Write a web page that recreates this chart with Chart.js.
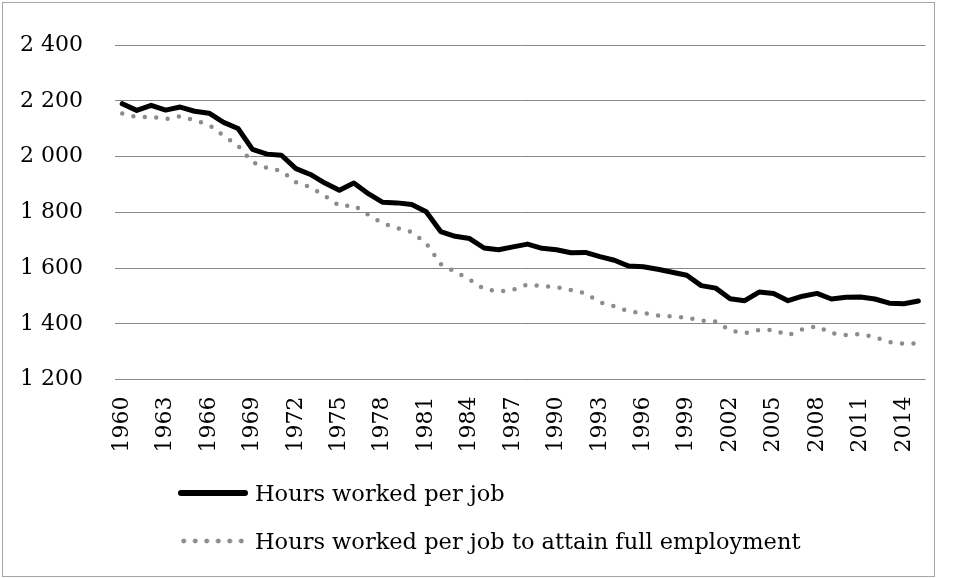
<!DOCTYPE html>
<html>
<head>
<meta charset="utf-8">
<script src="https://cdn.jsdelivr.net/npm/chart.js@4"></script>
<style>
  body { margin: 0; background: #fff; }
  #wrap { position: relative; width: 962px; height: 578px; }
  #frame { position: absolute; left: 2px; top: 2px; width: 931px; height: 573px; border: 1px solid #a6a6a6; }
  #legend { position: absolute; left: 178px; top: 476px; font-family: "DejaVu Serif", serif; font-size: 22.5px; color: #000; }
  .item { display: flex; align-items: center; height: 34px; margin-bottom: 14px; }
  .swatch { width: 70px; height: 6px; margin-right: 7px; }
  .solid { background: #000; border-radius: 3px; }
  .dots { background: radial-gradient(circle, #8c8c8c 2.2px, transparent 2.7px) repeat-x; background-size: 11.5px 6px; width: 66px; margin-right: 11px; }
</style>
</head>
<body>
<div id="wrap">
  <div id="frame"></div>
  <canvas id="chart" width="962" height="578"></canvas>
  <div id="legend"></div>
</div>
<script>
var years = ['1960','1961','1962','1963','1964','1965','1966','1967','1968','1969',
  '1970','1971','1972','1973','1974','1975','1976','1977','1978','1979',
  '1980','1981','1982','1983','1984','1985','1986','1987','1988','1989',
  '1990','1991','1992','1993','1994','1995','1996','1997','1998','1999',
  '2000','2001','2002','2003','2004','2005','2006','2007','2008','2009',
  '2010','2011','2012','2013','2014','2015'];

var hoursPerJob = [2190, 2166, 2184, 2167, 2178, 2163, 2156, 2123, 2101, 2026,
  2009, 2005, 1957, 1936, 1905, 1879, 1905, 1867, 1836, 1834,
  1828, 1802, 1731, 1714, 1706, 1672, 1666, 1676, 1686, 1671,
  1666, 1655, 1656, 1641, 1628, 1607, 1605, 1596, 1585, 1574,
  1537, 1528, 1490, 1483, 1514, 1509, 1483, 1499, 1509, 1489,
  1495, 1496, 1489, 1474, 1472, 1482];

var hoursFullEmployment = [2155, 2142, 2143, 2135, 2145, 2130, 2114, 2075, 2039, 1980,
  1960, 1949, 1908, 1890, 1859, 1823, 1825, 1791, 1761, 1744,
  1729, 1689, 1614, 1587, 1559, 1525, 1516, 1522, 1541, 1535,
  1532, 1521, 1509, 1477, 1463, 1444, 1439, 1430, 1426, 1422,
  1411, 1408, 1376, 1366, 1378, 1378, 1359, 1380, 1392, 1366,
  1360, 1363, 1352, 1334, 1329, 1330];

var seriesNames = ['Hours worked per job', 'Hours worked per job to attain full employment'];

// y ticks like "2 400"
function spaced(v) {
  return String(v).replace(/\B(?=(\d{3})+(?!\d))/g, ' ');
}

var font = { family: 'DejaVu Serif', size: 22 };

var chart = new Chart(document.getElementById('chart'), {
  type: 'line',
  data: {
    labels: years,
    datasets: [
      {
        label: seriesNames[0],
        data: hoursPerJob,
        borderColor: '#000000',
        borderWidth: 5,
        borderJoinStyle: 'round',
        borderCapStyle: 'round',
        pointRadius: 0,
        tension: 0
      },
      {
        label: seriesNames[1],
        data: hoursFullEmployment,
        borderColor: '#8c8c8c',
        borderWidth: 4.5,
        borderDash: [0, 11.5],
        borderCapStyle: 'round',
        pointRadius: 0,
        tension: 0
      }
    ]
  },
  options: {
    responsive: false,
    animation: false,
    devicePixelRatio: 1,
    layout: { padding: { top: 32, right: 29, left: 0, bottom: 0 } },
    plugins: {
      legend: { display: false },
      tooltip: { enabled: false }
    },
    scales: {
      x: {
        offset: true,
        grid: { display: false, drawTicks: false },
        border: { display: false },
        ticks: {
          color: '#000',
          font: font,
          autoSkip: false,
          maxRotation: 90,
          minRotation: 90,
          padding: 17,
          // only every third year is labelled
          callback: function (val, i) {
            return i % 3 === 0 ? years[i] : '';
          }
        },
        afterFit: function (scale) { scale.height = 198.5; }
      },
      y: {
        min: 1200,
        max: 2400,
        grid: { color: '#898989', lineWidth: 1, drawTicks: false },
        border: { display: false },
        ticks: {
          stepSize: 200,
          color: '#000',
          font: font,
          padding: 32,
          callback: function (v) { return spaced(v); }
        },
        afterFit: function (scale) { scale.width = 115; }
      }
    }
  }
});

// legend below the plot, one item per row
var legend = document.getElementById('legend');
seriesNames.forEach(function (name, i) {
  var row = document.createElement('div');
  row.className = 'item';
  var sw = document.createElement('span');
  sw.className = 'swatch ' + (i === 0 ? 'solid' : 'dots');
  var txt = document.createElement('span');
  txt.textContent = name;
  row.appendChild(sw);
  row.appendChild(txt);
  legend.appendChild(row);
});
</script>
</body>
</html>
